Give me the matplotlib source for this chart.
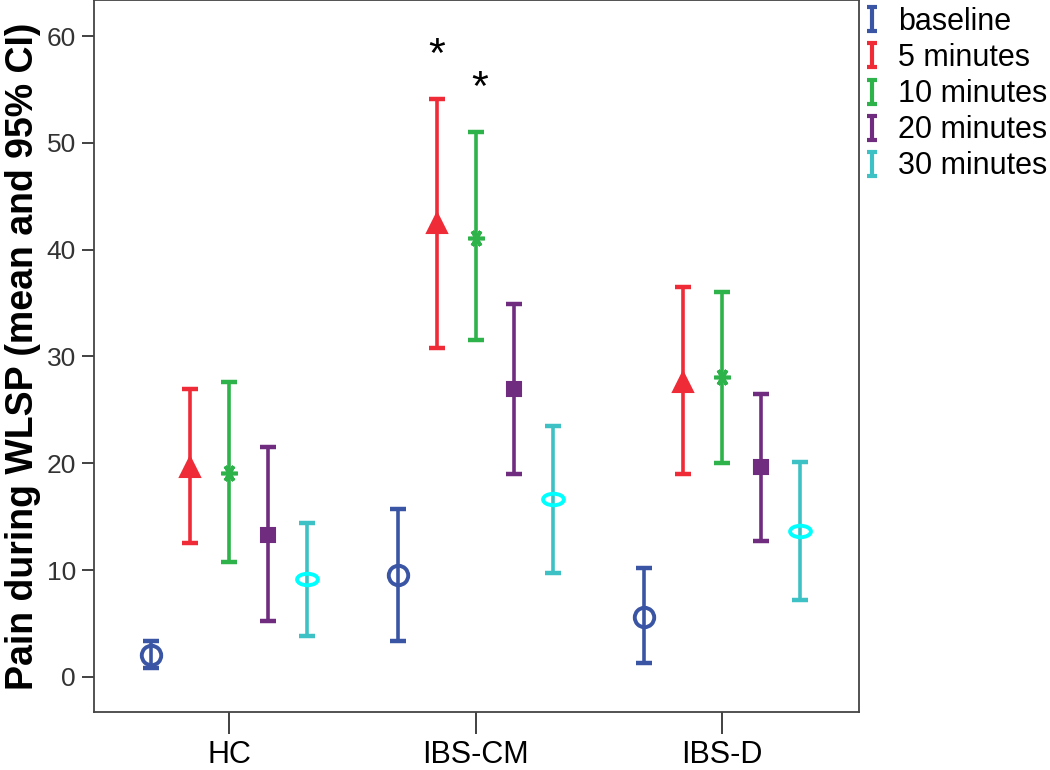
import matplotlib
matplotlib.use("Agg")
import matplotlib.pyplot as plt
import numpy as np
from matplotlib.path import Path
from matplotlib.lines import Line2D
import matplotlib.transforms as mtransforms

plt.rcParams['font.family'] = ['Liberation Sans', 'DejaVu Sans']

groups = ["HC", "IBS-CM", "IBS-D"]
times = ["baseline", "5 minutes", "10 minutes", "20 minutes", "30 minutes"]

mean_baseline = [2.1, 9.5, 5.6]
mean_5min = [19.7, 42.5, 27.6]
mean_10min = [19.1, 41.1, 28.1]
mean_20min = [13.3, 27.0, 19.7]
mean_30min = [9.2, 16.7, 13.7]

low_baseline = [0.8, 3.4, 1.3]
low_5min = [12.5, 30.8, 19.0]
low_10min = [10.8, 31.5, 20.0]
low_20min = [5.2, 19.0, 12.7]
low_30min = [3.8, 9.7, 7.2]

up_baseline = [3.4, 15.7, 10.2]
up_5min = [27.0, 54.1, 36.5]
up_10min = [27.6, 51.0, 36.0]
up_20min = [21.5, 34.9, 26.5]
up_30min = [14.4, 23.5, 20.1]

yticks = [0, 10, 20, 30, 40, 50, 60]

# significance markers: (group index, time index)
sig_marks = [(1, 1), (1, 2)]

means = [mean_baseline, mean_5min, mean_10min, mean_20min, mean_30min]
lows = [low_baseline, low_5min, low_10min, low_20min, low_30min]
ups = [up_baseline, up_5min, up_10min, up_20min, up_30min]

bar_colors = ['#3A55A4', '#EE2B36', '#2DB34A', '#702C7E', '#3EC1C4']
mk_edge = ['#3A55A4', '#EE2B36', '#2DB34A', '#702C7E', '#00FFFF']
mk_face = ['none', '#EE2B36', '#2DB34A', '#702C7E', 'none']

ellipse = Path.unit_circle().transformed(mtransforms.Affine2D().scale(1.0, 0.55))
markers = ['o', '^', (6, 2, 90), 's', ellipse]
msizes = [14, 14, 12, 10, 15]
mews = [2.8, 1.5, 2.6, 1.5, 2.8]

fig = plt.figure(figsize=(10.5, 7.7), dpi=100)
ax = fig.add_axes([94/1050, 1 - 712/770, (859-94)/1050, 712/770])

x = np.arange(len(groups))
step = 0.158
for i in range(len(times)):
    xi = x + (i - 2) * step
    m = np.array(means[i])
    lo = np.array(lows[i])
    hi = np.array(ups[i])
    ax.errorbar(xi, m, yerr=[m - lo, hi - m], fmt='none', ecolor=bar_colors[i],
                elinewidth=2.6, capsize=6, capthick=3.2, zorder=2)
    ax.plot(xi, m, linestyle='none', marker=markers[i], markersize=msizes[i],
            markerfacecolor=mk_face[i], markeredgecolor=mk_edge[i],
            markeredgewidth=mews[i], zorder=3)

for g, t in sig_marks:
    xs = x[g] + (t - 2) * step + (0.016 if t == 2 else 0)
    ax.text(xs, ups[t][g] + 4.0, '*', ha='center', va='center', fontsize=31,
            color='black')

ax.set_xlim(-0.548, 2.556)
ax.set_ylim(-3.28, 63.37)
ax.set_xticks(x)
ax.set_xticklabels(groups, fontsize=22)
ax.set_yticks(yticks)
ax.set_yticklabels([str(v) for v in yticks], fontsize=19, color='#333333')
ax.tick_params(axis='x', length=16, width=1.3, color='#333333', pad=4)
ax.tick_params(axis='y', length=9, width=1.3, color='#333333', pad=4)
for s in ax.spines.values():
    s.set_color('#444444')
    s.set_linewidth(1.3)
ax.set_ylabel('Pain during WLSP (mean and 95% CI)', fontsize=27, fontweight='bold',
              labelpad=4)

ipath = Path([(-0.45, 1), (0.45, 1), (0, 1), (0, -1), (-0.45, -1), (0.45, -1)],
             [Path.MOVETO, Path.LINETO, Path.MOVETO, Path.LINETO, Path.MOVETO, Path.LINETO])
handles = [Line2D([], [], linestyle='none', marker=ipath, markersize=17,
                  markerfacecolor='none', markeredgecolor=c, markeredgewidth=3.0)
           for c in bar_colors]
fig.legend(handles, times, loc='upper left', bbox_to_anchor=(860/1050, 1 - 4/770),
           frameon=False, fontsize=22, handlelength=0.6, handletextpad=0.55,
           labelspacing=0.2, borderaxespad=0, borderpad=0.1)

fig.savefig('out.png', dpi=100)
